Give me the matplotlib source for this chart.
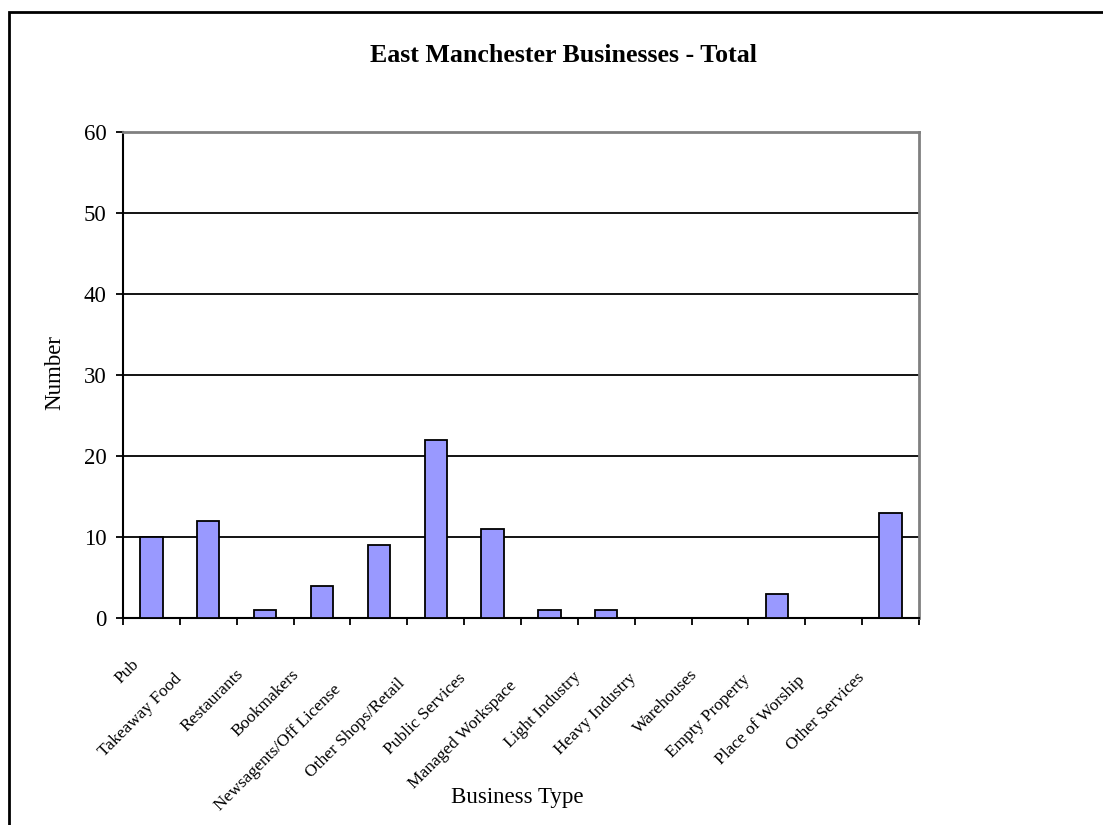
import matplotlib
matplotlib.use("Agg")
import matplotlib.pyplot as plt
from matplotlib.patches import Rectangle
from matplotlib.font_manager import FontProperties

plt.rcParams['font.family'] = 'Liberation Serif'

business_types = ["Pub", "Takeaway Food", "Restaurants", "Bookmakers",
                  "Newsagents/Off License", "Other Shops/Retail", "Public Services",
                  "Managed Workspace", "Light Industry", "Heavy Industry", "Warehouses",
                  "Empty Property", "Place of Worship", "Other Services"]
counts = [10, 12, 1, 4, 9, 22, 11, 1, 1, 0, 0, 3, 0, 13]
y_ticks = [0, 10, 20, 30, 40, 50, 60]

fig = plt.figure(figsize=(11.03, 8.25), dpi=100)
ax = fig.add_axes([123 / 1103, 1 - 618 / 825, 796 / 1103, 486 / 825])

# outer chart frame (runs off the right and bottom edge)
fig.patches.append(Rectangle((9 / 1103, -0.1), 2.0, 1 - 12 / 825 + 0.1,
                             transform=fig.transFigure, fill=False,
                             edgecolor='black', linewidth=2.0, zorder=0))

x = list(range(len(business_types)))
ax.bar(x, counts, width=0.39, color='#9999FF', edgecolor='black', linewidth=1.3, zorder=3)

ax.set_xlim(-0.5, len(business_types) - 0.5)
ax.set_ylim(0, 60)
ax.set_yticks(y_ticks)
ax.yaxis.grid(True, color='black', linewidth=1.3, zorder=0)
ax.set_axisbelow(True)

ax.set_xticks([i - 0.5 for i in range(len(business_types) + 1)])
ax.set_xticklabels([])
ax.tick_params(axis='x', direction='out', length=5, width=1.3, color='black')
ax.tick_params(axis='y', direction='out', length=5, width=1.3, color='black',
               labelsize=16.5, pad=7)

for side in ['left', 'bottom']:
    ax.spines[side].set_color('black')
    ax.spines[side].set_linewidth(1.5)
for side in ['top', 'right']:
    ax.spines[side].set_color('#808080')
    ax.spines[side].set_linewidth(2.0)

# category labels at 45 degrees, longer labels pushed further down the diagonal
label_font = FontProperties(family='Liberation Serif', size=12.5)
renderer = fig.canvas.get_renderer()
w_short = renderer.get_text_width_height_descent(business_types[0], label_font, ismath=False)[0]
for i, name in enumerate(business_types):
    w = renderer.get_text_width_height_descent(name, label_font, ismath=False)[0]
    s = 0.18 * (w - w_short)
    ax.annotate(name, xy=(i, 0), xycoords='data',
                xytext=(-20 - s, -38 - s), textcoords='offset pixels',
                rotation=45, rotation_mode='anchor', ha='right', va='top',
                fontproperties=label_font)

fig.text(563 / 1103, 1 - 62 / 825, "East Manchester Businesses - Total",
         ha='center', va='baseline', fontsize=18.6, fontweight='bold')
fig.text(517 / 1103, 1 - 797 / 825, "Business Type", ha='center', va='center', fontsize=16.5)
fig.text(55 / 1103, 1 - 372 / 825, "Number", ha='center', va='center',
         rotation=90, fontsize=16.5)

fig.savefig('out.png', dpi=100)
